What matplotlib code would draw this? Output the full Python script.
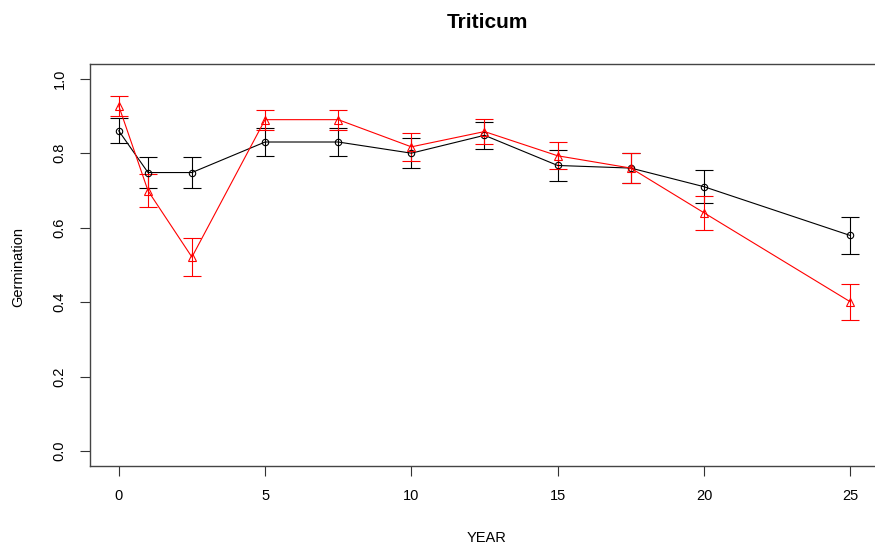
import numpy as np
import matplotlib.pyplot as plt

plt.rcParams['font.family'] = ['Liberation Sans', 'DejaVu Sans']

# Germination by storage year, two seed lots
years = [0, 1, 2.5, 5, 7.5, 10, 12.5, 15, 17.5, 20, 25]
germ_black = [0.86, 0.748, 0.748, 0.83, 0.83, 0.80, 0.848, 0.767, 0.76, 0.71, 0.579]
err_black = [0.034, 0.042, 0.042, 0.037, 0.037, 0.040, 0.037, 0.041, 0.041, 0.044, 0.049]
germ_red = [0.927, 0.699, 0.521, 0.89, 0.89, 0.817, 0.858, 0.793, 0.76, 0.640, 0.401]
err_red = [0.026, 0.044, 0.050, 0.027, 0.027, 0.038, 0.034, 0.036, 0.041, 0.046, 0.049]

W, H = 875, 551
fig = plt.figure(figsize=(W / 100, H / 100), dpi=100)

# plot region in pixels (right edge runs past the canvas)
left, right, top, bottom = 89.5, 879.5, 63.8, 466.0
ax = fig.add_axes([left / W, (H - bottom) / H, (right - left) / W, (bottom - top) / H])

lw = 0.8
ax.errorbar(years, germ_black, yerr=err_black, color='black', lw=lw,
            marker='o', ms=4.6, mfc='none', mew=lw, capsize=6.5, capthick=lw,
            elinewidth=lw)
ax.errorbar(years, germ_red, yerr=err_red, color='#ff0000', lw=lw,
            marker='^', ms=5.8, mfc='none', mew=lw, capsize=6.5, capthick=lw,
            elinewidth=lw)

ax.set_xlim(-1.0, 26.0)
ax.set_ylim(-0.04, 1.04)
ax.set_xticks([0, 5, 10, 15, 20, 25])
ax.set_yticks([0.0, 0.2, 0.4, 0.6, 0.8, 1.0])
ax.set_yticklabels(['0.0', '0.2', '0.4', '0.6', '0.8', '1.0'],
                   rotation=90, va='center')

for s in ax.spines.values():
    s.set_color('#444444')
    s.set_linewidth(1.0)
ax.tick_params(axis='both', length=7, width=0.8, color='#333333',
               labelsize=10.5, pad=9.5)

fig.text(487 / W, 1 - 22 / H, 'Triticum', ha='center', va='center',
         fontsize=15, fontweight='bold')
fig.text(487 / W, 1 - 538 / H, 'YEAR', ha='center', va='center', fontsize=10.5)
fig.text(18 / W, 1 - 267 / H, 'Germination', ha='center', va='center',
         rotation=90, fontsize=10.5)

fig.savefig('out.png', dpi=100)
